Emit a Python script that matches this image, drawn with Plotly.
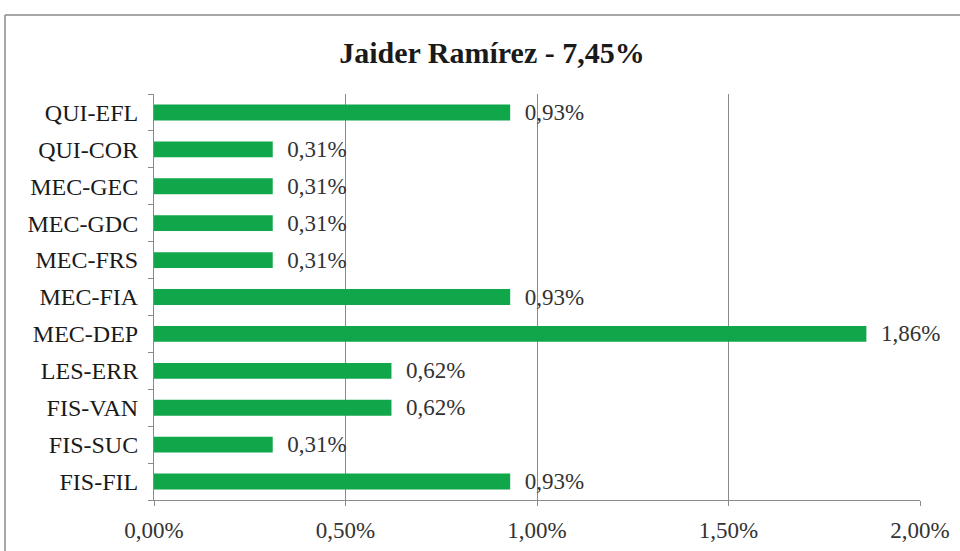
import plotly.graph_objects as go

categories = ["FIS-FIL", "FIS-SUC", "FIS-VAN", "LES-ERR", "MEC-DEP", "MEC-FIA",
              "MEC-FRS", "MEC-GDC", "MEC-GEC", "QUI-COR", "QUI-EFL"]
values = [0.0093, 0.0031, 0.0062, 0.0062, 0.0186, 0.0093,
          0.0031, 0.0031, 0.0031, 0.0031, 0.0093]
title_text = "Jaider Ramírez - 7,45%"
x_ticks = [0, 0.005, 0.01, 0.015, 0.02]

FONT = "Liberation Serif, Times New Roman, serif"

fig = go.Figure(go.Bar(
    y=categories, x=values, orientation="h",
    marker=dict(color="#10A64A", line=dict(width=0)),
    texttemplate="  %{x:.2%}", textposition="outside",
    constraintext="none",
    textfont=dict(family=FONT, size=23, color="#333333"),
    cliponaxis=False,
))

frame = dict(color="#8a8a8a", width=1.5)
fig.update_layout(
    width=960, height=551,
    separators=",.",
    paper_bgcolor="white", plot_bgcolor="white",
    margin=dict(l=154, r=40, t=94, b=51, autoexpand=False),
    showlegend=False,
    bargap=0.57,
    title=dict(text="<b>" + title_text + "</b>", x=0.5125, xanchor="center",
               y=1 - 52 / 551, yanchor="middle",
               font=dict(family=FONT, size=30, color="#1a1a1a")),
    xaxis=dict(range=[0, 0.02], tickvals=x_ticks, tickformat=".2%",
               automargin=False,
               showgrid=True, gridcolor="#8a8a8a", gridwidth=1,
               showline=True, linecolor="#8a8a8a", linewidth=1,
               ticks="outside", ticklen=5, tickcolor="#8a8a8a",
               zeroline=False, ticklabelstandoff=4,
               tickfont=dict(family=FONT, size=23, color="#333333")),
    yaxis=dict(showline=True, linecolor="#8a8a8a", linewidth=1,
               automargin=False,
               ticks="outside", ticklen=5, tickcolor="#8a8a8a",
               tickson="boundaries", showgrid=False,
               ticklabelstandoff=10,
               tickfont=dict(family=FONT, size=24, color="#1a1a1a")),
    shapes=[
        dict(type="line", xref="paper", yref="paper",
             x0=-0.1945, x1=1.1, y0=1.1946, y1=1.1946, line=frame, layer="below"),
        dict(type="line", xref="paper", yref="paper",
             x0=-0.1945, x1=-0.1945, y0=-0.2, y1=1.1946, line=frame, layer="below"),
    ],
)

fig.write_html(
    "out.html",
    config={"displayModeBar": False},
    post_script="document.body.style.margin='0';document.body.style.overflow='hidden';",
)
